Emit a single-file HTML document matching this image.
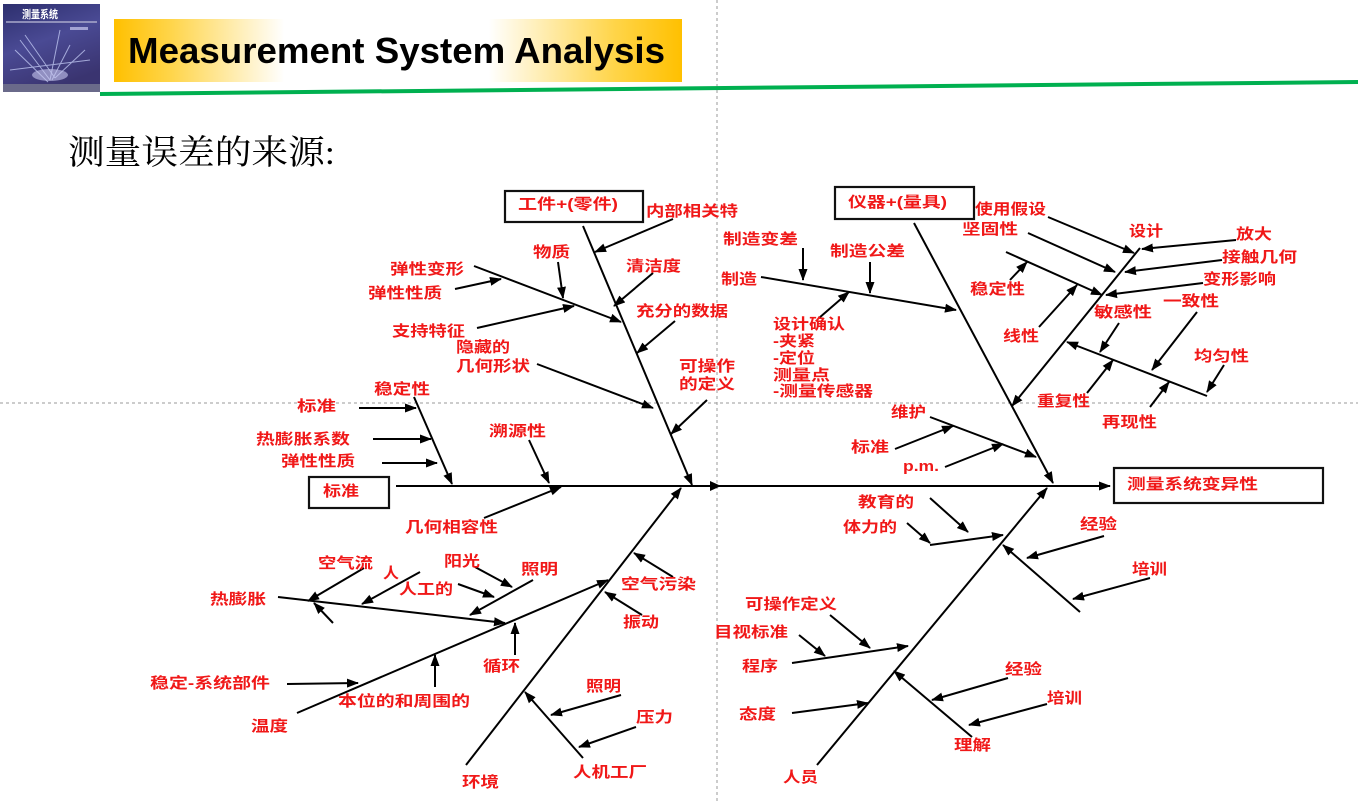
<!DOCTYPE html>
<html><head><meta charset="utf-8"><style>
html,body{margin:0;padding:0;background:#fff;}
svg{display:block;}
.t{font-family:"Liberation Sans","Noto Sans CJK SC",sans-serif;font-weight:bold;font-size:15px;fill:#f01818;}
.l{stroke:#000;stroke-width:2;fill:none;}
</style></head><body>
<svg width="1358" height="802" viewBox="0 0 1358 802" xmlns="http://www.w3.org/2000/svg">
<defs>
<marker id="a" markerUnits="userSpaceOnUse" markerWidth="12" markerHeight="10" refX="11" refY="5" orient="auto">
<path d="M0,0.5 L12,5 L0,9.5 z" fill="#000"/>
</marker>
<linearGradient id="yb" x1="0" x2="1" y1="0" y2="0">
<stop offset="0" stop-color="#FFC000"/>
<stop offset="0.1" stop-color="#FFD54A"/>
<stop offset="0.3" stop-color="#FFFFFF"/>
<stop offset="0.66" stop-color="#FFFFFF"/>
<stop offset="0.88" stop-color="#FFD54A"/>
<stop offset="1" stop-color="#FFC000"/>
</linearGradient>
<linearGradient id="lg" x1="0" x2="0.4" y1="0" y2="1">
<stop offset="0" stop-color="#2d2f6e"/>
<stop offset="0.5" stop-color="#4a4a94"/>
<stop offset="1" stop-color="#3a3470"/>
</linearGradient>
</defs>

<!-- guides -->
<line x1="717" y1="0" x2="717" y2="802" stroke="#9a9a9a" stroke-width="1" stroke-dasharray="3,3"/>
<line x1="0" y1="403" x2="1358" y2="403" stroke="#9a9a9a" stroke-width="1" stroke-dasharray="3,3"/>

<!-- logo -->
<rect x="3" y="4" width="97" height="88" fill="url(#lg)"/>
<g stroke="#cfd8ff" stroke-width="1" opacity="0.7">
<line x1="20" y1="40" x2="50" y2="80"/><line x1="25" y1="35" x2="55" y2="78"/>
<line x1="15" y1="50" x2="48" y2="82"/><line x1="60" y1="30" x2="50" y2="80"/>
<line x1="70" y1="45" x2="52" y2="80"/><line x1="85" y1="50" x2="55" y2="78"/>
<line x1="10" y1="70" x2="90" y2="60"/>
</g>
<ellipse cx="50" cy="75" rx="18" ry="6" fill="#c8c8f0" opacity="0.6"/>
<rect x="3" y="84" width="97" height="8" fill="#6a6a8a"/>
<text x="22" y="18" font-family="Noto Sans CJK SC,sans-serif" font-weight="bold" font-size="11" fill="#fff" textLength="36" lengthAdjust="spacingAndGlyphs">测量系统</text>
<rect x="6" y="21" width="91" height="2" fill="#b0b0d0" opacity="0.7"/>
<rect x="70" y="27" width="18" height="3" fill="#e0e0ff" opacity="0.6"/>

<!-- title box -->
<rect x="114" y="19" width="568" height="63" fill="url(#yb)"/>
<text x="128" y="63" font-family="Liberation Sans,sans-serif" font-weight="bold" font-size="36" fill="#000" textLength="537" lengthAdjust="spacingAndGlyphs">Measurement System Analysis</text>
<!-- green line -->
<line x1="100" y1="94" x2="1358" y2="82" stroke="#00b050" stroke-width="4"/>

<text x="68" y="164" font-family="Liberation Serif,Noto Serif CJK SC,serif" font-size="34" fill="#000" textLength="267" lengthAdjust="spacingAndGlyphs">测量误差的来源:</text>

<!-- boxes -->
<rect x="505" y="191" width="138" height="31" fill="#fff" stroke="#111" stroke-width="2.2"/>
<rect x="835" y="187" width="139" height="32" fill="#fff" stroke="#111" stroke-width="2.2"/>
<rect x="309" y="477" width="80" height="31" fill="#fff" stroke="#111" stroke-width="2.2"/>
<rect x="1114" y="468" width="209" height="35" fill="#fff" stroke="#111" stroke-width="2.2"/>

<!-- lines -->
<g class="l" marker-end="url(#a)">
<!-- main -->
<line x1="396" y1="486" x2="1110" y2="486"/>
<line x1="583" y1="226" x2="692" y2="485"/>
<line x1="914" y1="223" x2="1053" y2="483"/>
<line x1="466" y1="765" x2="681" y2="488"/>
<line x1="817" y1="765" x2="1047" y2="488"/>
<line x1="414" y1="397" x2="452" y2="484"/>
<!-- top-left -->
<line x1="673" y1="219" x2="595" y2="252"/>
<line x1="558" y1="262" x2="563" y2="298"/>
<line x1="474" y1="266" x2="621" y2="322"/>
<line x1="455" y1="289" x2="501" y2="279"/>
<line x1="477" y1="328" x2="574" y2="306"/>
<line x1="653" y1="273" x2="614" y2="306"/>
<line x1="675" y1="321" x2="637" y2="353"/>
<line x1="537" y1="364" x2="653" y2="408"/>
<line x1="707" y1="400" x2="671" y2="434"/>
<!-- left middle -->
<line x1="359" y1="408" x2="416" y2="408"/>
<line x1="373" y1="439" x2="431" y2="439"/>
<line x1="382" y1="463" x2="437" y2="463"/>
<line x1="529" y1="440" x2="549" y2="483"/>
<line x1="484" y1="518" x2="561" y2="487"/>
<!-- top right -->
<line x1="803" y1="248" x2="803" y2="280"/>
<line x1="870" y1="262" x2="870" y2="293"/>
<line x1="761" y1="277" x2="956" y2="310"/>
<line x1="819" y1="318" x2="849" y2="292"/>
<line x1="1048" y1="217" x2="1134" y2="253"/>
<line x1="1028" y1="233" x2="1115" y2="272"/>
<line x1="1140" y1="248" x2="1012" y2="406"/>
<line x1="1236" y1="240" x2="1142" y2="249"/>
<line x1="1222" y1="260" x2="1125" y2="272"/>
<line x1="1203" y1="283" x2="1106" y2="295"/>
<line x1="1006" y1="252" x2="1102" y2="295"/>
<line x1="1010" y1="280" x2="1027" y2="262"/>
<line x1="1039" y1="327" x2="1077" y2="285"/>
<line x1="1119" y1="323" x2="1100" y2="352"/>
<line x1="1197" y1="312" x2="1152" y2="370"/>
<line x1="1224" y1="365" x2="1207" y2="392"/>
<line x1="1207" y1="396" x2="1067" y2="342"/>
<line x1="1087" y1="393" x2="1113" y2="360"/>
<line x1="1150" y1="407" x2="1169" y2="382"/>
<!-- middle right -->
<line x1="930" y1="417" x2="1036" y2="457"/>
<line x1="895" y1="449" x2="953" y2="426"/>
<line x1="945" y1="467" x2="1003" y2="444"/>
<line x1="930" y1="498" x2="968" y2="532"/>
<line x1="907" y1="523" x2="930" y2="543"/>
<line x1="930" y1="545" x2="1003" y2="535"/>
<line x1="1104" y1="536" x2="1027" y2="558"/>
<line x1="1150" y1="578" x2="1073" y2="599"/>
<line x1="1080" y1="612" x2="1003" y2="545"/>
<!-- lower left -->
<line x1="278" y1="597" x2="505" y2="623"/>
<line x1="364" y1="568" x2="308" y2="601"/>
<line x1="333" y1="623" x2="314" y2="603"/>
<line x1="420" y1="572" x2="362" y2="604"/>
<line x1="475" y1="567" x2="512" y2="587"/>
<line x1="458" y1="584" x2="494" y2="597"/>
<line x1="533" y1="580" x2="470" y2="615"/>
<line x1="297" y1="713" x2="608" y2="580"/>
<line x1="515" y1="655" x2="515" y2="623"/>
<line x1="435" y1="687" x2="435" y2="655"/>
<line x1="287" y1="684" x2="358" y2="683"/>
<line x1="673" y1="577" x2="634" y2="553"/>
<line x1="642" y1="615" x2="605" y2="592"/>
<line x1="621" y1="695" x2="551" y2="715"/>
<line x1="636" y1="727" x2="579" y2="747"/>
<line x1="583" y1="758" x2="525" y2="692"/>
<!-- lower right -->
<line x1="830" y1="615" x2="870" y2="648"/>
<line x1="799" y1="635" x2="825" y2="656"/>
<line x1="792" y1="663" x2="908" y2="646"/>
<line x1="792" y1="713" x2="868" y2="703"/>
<line x1="1008" y1="678" x2="932" y2="700"/>
<line x1="1047" y1="704" x2="969" y2="725"/>
<line x1="972" y1="737" x2="894" y2="671"/>
</g>
<polygon points="710,481 721,486 710,491" fill="#000"/>

<!-- labels -->
<g class="t">
<text x="518" y="209" textLength="100" lengthAdjust="spacingAndGlyphs">工件+(零件)</text>
<text x="646" y="216" textLength="92" lengthAdjust="spacingAndGlyphs">内部相关特</text>
<text x="533" y="257" textLength="37" lengthAdjust="spacingAndGlyphs">物质</text>
<text x="390" y="274" textLength="74" lengthAdjust="spacingAndGlyphs">弹性变形</text>
<text x="626" y="271" textLength="55" lengthAdjust="spacingAndGlyphs">清洁度</text>
<text x="368" y="298" textLength="74" lengthAdjust="spacingAndGlyphs">弹性性质</text>
<text x="636" y="316" textLength="92" lengthAdjust="spacingAndGlyphs">充分的数据</text>
<text x="392" y="336" textLength="73" lengthAdjust="spacingAndGlyphs">支持特征</text>
<text x="456" y="352" textLength="54" lengthAdjust="spacingAndGlyphs">隐藏的</text>
<text x="456" y="371" textLength="74" lengthAdjust="spacingAndGlyphs">几何形状</text>
<text x="679" y="371" textLength="56" lengthAdjust="spacingAndGlyphs">可操作</text>
<text x="679" y="389" textLength="56" lengthAdjust="spacingAndGlyphs">的定义</text>

<text x="374" y="394" textLength="56" lengthAdjust="spacingAndGlyphs">稳定性</text>
<text x="297" y="411" textLength="39" lengthAdjust="spacingAndGlyphs">标准</text>
<text x="256" y="444" textLength="94" lengthAdjust="spacingAndGlyphs">热膨胀系数</text>
<text x="281" y="466" textLength="74" lengthAdjust="spacingAndGlyphs">弹性性质</text>
<text x="323" y="496" textLength="36" lengthAdjust="spacingAndGlyphs">标准</text>
<text x="489" y="436" textLength="57" lengthAdjust="spacingAndGlyphs">溯源性</text>
<text x="405" y="532" textLength="93" lengthAdjust="spacingAndGlyphs">几何相容性</text>

<text x="848" y="207" textLength="99" lengthAdjust="spacingAndGlyphs">仪器+(量具)</text>
<text x="723" y="244" textLength="75" lengthAdjust="spacingAndGlyphs">制造变差</text>
<text x="830" y="256" textLength="75" lengthAdjust="spacingAndGlyphs">制造公差</text>
<text x="721" y="284" textLength="36" lengthAdjust="spacingAndGlyphs">制造</text>
<text x="773" y="329" textLength="72" lengthAdjust="spacingAndGlyphs">设计确认</text>
<text x="773" y="346" textLength="42" lengthAdjust="spacingAndGlyphs">-夹紧</text>
<text x="773" y="363" textLength="42" lengthAdjust="spacingAndGlyphs">-定位</text>
<text x="773" y="380" textLength="57" lengthAdjust="spacingAndGlyphs">测量点</text>
<text x="773" y="396" textLength="100" lengthAdjust="spacingAndGlyphs">-测量传感器</text>
<text x="975" y="214" textLength="71" lengthAdjust="spacingAndGlyphs">使用假设</text>
<text x="962" y="234" textLength="56" lengthAdjust="spacingAndGlyphs">坚固性</text>
<text x="1129" y="236" textLength="34" lengthAdjust="spacingAndGlyphs">设计</text>
<text x="1236" y="239" textLength="36" lengthAdjust="spacingAndGlyphs">放大</text>
<text x="1222" y="262" textLength="75" lengthAdjust="spacingAndGlyphs">接触几何</text>
<text x="1203" y="284" textLength="73" lengthAdjust="spacingAndGlyphs">变形影响</text>
<text x="970" y="294" textLength="55" lengthAdjust="spacingAndGlyphs">稳定性</text>
<text x="1163" y="306" textLength="56" lengthAdjust="spacingAndGlyphs">一致性</text>
<text x="1094" y="317" textLength="58" lengthAdjust="spacingAndGlyphs">敏感性</text>
<text x="1003" y="341" textLength="36" lengthAdjust="spacingAndGlyphs">线性</text>
<text x="1194" y="361" textLength="55" lengthAdjust="spacingAndGlyphs">均匀性</text>
<text x="1037" y="406" textLength="53" lengthAdjust="spacingAndGlyphs">重复性</text>
<text x="1102" y="427" textLength="55" lengthAdjust="spacingAndGlyphs">再现性</text>

<text x="891" y="417" textLength="35" lengthAdjust="spacingAndGlyphs">维护</text>
<text x="851" y="452" textLength="38" lengthAdjust="spacingAndGlyphs">标准</text>
<text x="903" y="471" textLength="36" lengthAdjust="spacingAndGlyphs">p.m.</text>
<text x="1127" y="489" textLength="131" lengthAdjust="spacingAndGlyphs">测量系统变异性</text>
<text x="858" y="507" textLength="56" lengthAdjust="spacingAndGlyphs">教育的</text>
<text x="843" y="532" textLength="54" lengthAdjust="spacingAndGlyphs">体力的</text>
<text x="1080" y="529" textLength="37" lengthAdjust="spacingAndGlyphs">经验</text>
<text x="1132" y="574" textLength="35" lengthAdjust="spacingAndGlyphs">培训</text>

<text x="318" y="568" textLength="55" lengthAdjust="spacingAndGlyphs">空气流</text>
<text x="383" y="578" textLength="16" lengthAdjust="spacingAndGlyphs">人</text>
<text x="444" y="566" textLength="36" lengthAdjust="spacingAndGlyphs">阳光</text>
<text x="521" y="574" textLength="37" lengthAdjust="spacingAndGlyphs">照明</text>
<text x="399" y="594" textLength="54" lengthAdjust="spacingAndGlyphs">人工的</text>
<text x="210" y="604" textLength="56" lengthAdjust="spacingAndGlyphs">热膨胀</text>
<text x="621" y="589" textLength="75" lengthAdjust="spacingAndGlyphs">空气污染</text>
<text x="623" y="627" textLength="36" lengthAdjust="spacingAndGlyphs">振动</text>
<text x="483" y="671" textLength="37" lengthAdjust="spacingAndGlyphs">循环</text>
<text x="150" y="688" textLength="120" lengthAdjust="spacingAndGlyphs">稳定-系统部件</text>
<text x="338" y="706" textLength="132" lengthAdjust="spacingAndGlyphs">本位的和周围的</text>
<text x="251" y="731" textLength="37" lengthAdjust="spacingAndGlyphs">温度</text>
<text x="586" y="691" textLength="35" lengthAdjust="spacingAndGlyphs">照明</text>
<text x="636" y="722" textLength="37" lengthAdjust="spacingAndGlyphs">压力</text>
<text x="573" y="777" textLength="74" lengthAdjust="spacingAndGlyphs">人机工厂</text>
<text x="462" y="787" textLength="37" lengthAdjust="spacingAndGlyphs">环境</text>

<text x="745" y="609" textLength="92" lengthAdjust="spacingAndGlyphs">可操作定义</text>
<text x="714" y="637" textLength="74" lengthAdjust="spacingAndGlyphs">目视标准</text>
<text x="742" y="671" textLength="36" lengthAdjust="spacingAndGlyphs">程序</text>
<text x="739" y="719" textLength="37" lengthAdjust="spacingAndGlyphs">态度</text>
<text x="783" y="782" textLength="35" lengthAdjust="spacingAndGlyphs">人员</text>
<text x="1005" y="674" textLength="37" lengthAdjust="spacingAndGlyphs">经验</text>
<text x="1047" y="703" textLength="35" lengthAdjust="spacingAndGlyphs">培训</text>
<text x="954" y="750" textLength="37" lengthAdjust="spacingAndGlyphs">理解</text>
</g>
</svg>
</body></html>
